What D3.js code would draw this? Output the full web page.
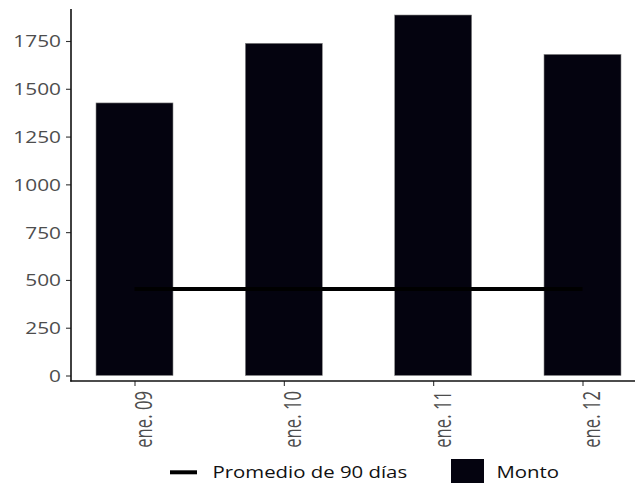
<!DOCTYPE html>
<html>
<head>
<meta charset="utf-8">
<script src="https://cdn.jsdelivr.net/npm/d3@7"></script>
<style>
  html, body { margin: 0; padding: 0; background: #fff; }
  svg { display: block; }
</style>
</head>
<body>
<script>
// ---- data ----
const categories = ["ene. 09", "ene. 10", "ene. 11", "ene. 12"];
const montoValues = [1426, 1738, 1886, 1680];
const promedioValues = [453, 453, 453, 453];
const yTickValues = [0, 250, 500, 750, 1000, 1250, 1500, 1750];
const legendLabels = ["Promedio de 90 días", "Monto"];

// ---- layout ----
const W = 635, H = 483;
const svg = d3.select("body").append("svg").attr("width", W).attr("height", H);

const axisX = 71;      // y-axis line x
const axisY = 381;     // x-axis line y
const plotTop = 9;
const barW = 77;
const stretch = 1.28;  // horizontal stretch of the reference glyphs

const x = d3.scalePoint().domain(categories).range([134.5, 582.5]);
const y = d3.scaleLinear().domain([0, 1750]).range([375.5, 41]);

const barColor = "#04030f";

// bars
svg.append("g").selectAll("rect").data(categories).join("rect")
  .attr("x", (d) => x(d) - barW / 2)
  .attr("width", barW)
  .attr("y", (d, i) => y(montoValues[i]))
  .attr("height", (d, i) => y(0) - y(montoValues[i]))
  .attr("fill", barColor)
  .attr("stroke", "#8a8a8a")
  .attr("stroke-width", 0.6);

// average line
const line = d3.line().x((d, i) => x(categories[i])).y((d) => y(d));
svg.append("path")
  .datum(promedioValues)
  .attr("d", line)
  .attr("fill", "none")
  .attr("stroke", "#000")
  .attr("stroke-width", 4);

// y axis
const yAxis = svg.append("g").attr("transform", `translate(${axisX},0)`)
  .call(d3.axisLeft(y).tickValues(yTickValues).tickSize(5).tickPadding(0).tickFormat(d3.format("d")));
yAxis.select(".domain").remove();
yAxis.selectAll(".tick line").attr("stroke", "#333").attr("stroke-width", 1.1);
yAxis.selectAll(".tick text").remove();
yAxis.selectAll(".tick").append("text")
  .attr("transform", `translate(-10,0) scale(${stretch},1)`)
  .attr("text-anchor", "end")
  .attr("dy", "0.36em")
  .attr("fill", "#4d4d4d")
  .style("font-family", "'Open Sans', sans-serif")
  .style("font-size", "16.3px")
  .text((d) => d3.format("d")(d));
svg.append("line")
  .attr("x1", axisX).attr("x2", axisX)
  .attr("y1", plotTop).attr("y2", axisY + 0.5)
  .attr("stroke", "#111").attr("stroke-width", 1.6);

// x axis
const xAxis = svg.append("g").attr("transform", `translate(0,${axisY})`)
  .call(d3.axisBottom(x).tickSize(5).tickPadding(0));
xAxis.select(".domain").remove();
xAxis.selectAll(".tick line").attr("stroke", "#333").attr("stroke-width", 1.1);
xAxis.selectAll(".tick text").remove();
xAxis.selectAll(".tick").append("text")
  .attr("transform", "translate(17,10) rotate(-90) scale(1,1.45)")
  .attr("text-anchor", "end")
  .attr("fill", "#4d4d4d")
  .style("font-family", "'Open Sans', sans-serif")
  .style("font-size", "16.7px")
  .text((d) => d);
svg.append("line")
  .attr("x1", axisX - 0.8).attr("x2", W)
  .attr("y1", axisY).attr("y2", axisY)
  .attr("stroke", "#111").attr("stroke-width", 1.6);

// legend
const lg = svg.append("g");
lg.append("line")
  .attr("x1", 170).attr("x2", 197).attr("y1", 472.3).attr("y2", 472.3)
  .attr("stroke", "#000").attr("stroke-width", 4);
lg.append("text")
  .attr("transform", `translate(212.5,477.5) scale(${1.29},1)`)
  .attr("fill", "#111")
  .style("font-family", "'Open Sans', sans-serif")
  .style("font-size", "15.8px")
  .text(legendLabels[0]);
lg.append("rect")
  .attr("x", 451).attr("y", 459).attr("width", 33).attr("height", 33)
  .attr("fill", barColor);
lg.append("text")
  .attr("transform", `translate(496.5,477.5) scale(${1.29},1)`)
  .attr("fill", "#111")
  .style("font-family", "'Open Sans', sans-serif")
  .style("font-size", "15.8px")
  .text(legendLabels[1]);
</script>
</body>
</html>
